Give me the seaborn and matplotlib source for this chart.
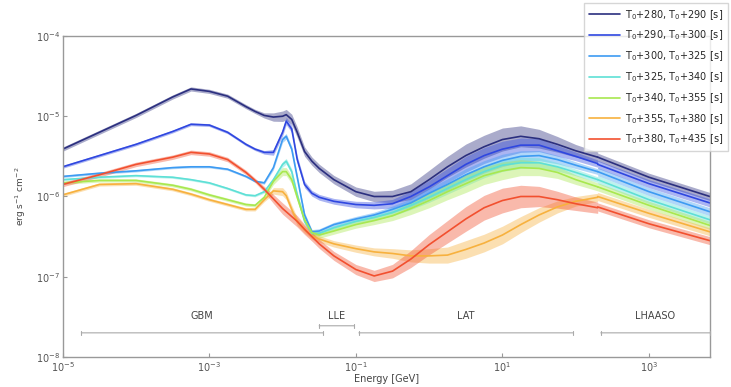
import numpy as np
import pandas as pd
import matplotlib
matplotlib.use("Agg")
import matplotlib.pyplot as plt
import matplotlib.ticker as mticker
import seaborn as sns

# log10(E / GeV) grid of the GBM+LLE+LAT model curves
log_e = [-5.0, -4.5, -4.0, -3.5, -3.25, -3.0, -2.75, -2.5, -2.375, -2.25, -2.125, -2.0, -1.95,
         -1.875, -1.8, -1.7, -1.6, -1.5, -1.3, -1.0, -0.75, -0.5, -0.25, 0.0, 0.25,
         0.5, 0.75, 1.0, 1.25, 1.5, 1.75, 2.0, 2.3]

# log10 of flux [erg s-1 cm-2] per time window
lf_280_290 = [-5.41, -5.20, -4.99, -4.76, -4.66, -4.69, -4.75, -4.88, -4.94, -4.99, -5.01, -5.00, -4.98,
              -5.04, -5.20, -5.44, -5.56, -5.65, -5.79, -5.94, -6.00, -6.00, -5.94, -5.79, -5.63,
              -5.49, -5.38, -5.29, -5.25, -5.28, -5.35, -5.43, -5.51]
lf_290_300 = [-5.63, -5.49, -5.35, -5.19, -5.10, -5.11, -5.20, -5.35, -5.41, -5.45, -5.45, -5.20, -5.06,
              -5.16, -5.54, -5.85, -5.96, -6.01, -6.06, -6.10, -6.11, -6.09, -6.00, -5.88, -5.74,
              -5.60, -5.49, -5.41, -5.36, -5.36, -5.43, -5.50, -5.59]
lf_300_325 = [-5.75, -5.71, -5.68, -5.64, -5.63, -5.63, -5.66, -5.75, -5.81, -5.83, -5.64, -5.29, -5.25,
              -5.41, -5.76, -6.23, -6.44, -6.43, -6.35, -6.28, -6.23, -6.16, -6.08, -5.96, -5.85,
              -5.73, -5.63, -5.55, -5.50, -5.49, -5.54, -5.61, -5.69]
lf_325_340 = [-5.79, -5.76, -5.74, -5.76, -5.79, -5.83, -5.90, -5.98, -5.99, -5.94, -5.79, -5.60, -5.56,
              -5.69, -5.98, -6.31, -6.46, -6.46, -6.39, -6.31, -6.26, -6.20, -6.11, -6.01, -5.90,
              -5.79, -5.69, -5.61, -5.58, -5.58, -5.63, -5.70, -5.79]
lf_340_355 = [-5.83, -5.80, -5.80, -5.86, -5.91, -5.98, -6.04, -6.10, -6.11, -6.01, -5.81, -5.69, -5.69,
              -5.79, -6.01, -6.29, -6.45, -6.48, -6.43, -6.35, -6.30, -6.24, -6.15, -6.05, -5.94,
              -5.84, -5.74, -5.68, -5.64, -5.65, -5.70, -5.79, -5.88]
lf_355_380 = [-5.98, -5.85, -5.84, -5.91, -5.97, -6.04, -6.10, -6.16, -6.16, -6.04, -5.93, -5.94, -5.99,
              -6.16, -6.31, -6.41, -6.49, -6.53, -6.59, -6.65, -6.69, -6.71, -6.74, -6.74, -6.73,
              -6.66, -6.58, -6.48, -6.35, -6.23, -6.13, -6.06, -6.01]
lf_380_435 = [-5.85, -5.73, -5.60, -5.51, -5.45, -5.47, -5.54, -5.70, -5.80, -5.91, -6.03, -6.15, -6.19,
              -6.25, -6.31, -6.41, -6.50, -6.59, -6.74, -6.91, -6.99, -6.93, -6.78, -6.60, -6.44,
              -6.28, -6.14, -6.05, -6.00, -6.00, -6.04, -6.09, -6.14]

# half width of the uncertainty band [dex] along log_e
band_dex = [0.02, 0.02, 0.02, 0.02, 0.02, 0.02, 0.02, 0.02, 0.02, 0.025, 0.04, 0.05, 0.05,
            0.05, 0.05, 0.045, 0.04, 0.04, 0.04, 0.045, 0.05, 0.06, 0.075, 0.09, 0.10,
            0.11, 0.11, 0.11, 0.10, 0.09, 0.075, 0.06, 0.05]
band_scale = [1.3, 0.9, 0.7, 0.7, 1.0, 1.0, 1.4]

# LHAASO power-law segments
log_e_lhaaso = [2.3, 3.0, 3.83]
lf_lhaaso = [[-5.51, -5.76, -6.00],
             [-5.60, -5.84, -6.08],
             [-5.69, -5.94, -6.19],
             [-5.79, -6.04, -6.29],
             [-5.88, -6.11, -6.36],
             [-6.00, -6.21, -6.44],
             [-6.13, -6.34, -6.55]]
band_lhaaso = 0.05

windows = ["T$_0$+280, T$_0$+290 [s]", "T$_0$+290, T$_0$+300 [s]", "T$_0$+300, T$_0$+325 [s]",
           "T$_0$+325, T$_0$+340 [s]", "T$_0$+340, T$_0$+355 [s]", "T$_0$+355, T$_0$+380 [s]",
           "T$_0$+380, T$_0$+435 [s]"]
colors = ["#2b2f7f", "#2f47e0", "#3d9bf2", "#5ee0d6", "#a8e84f", "#f7b13e", "#f2502f"]
curves = [lf_280_290, lf_290_300, lf_300_325, lf_325_340, lf_340_355, lf_355_380, lf_380_435]

# instrument energy ranges [GeV]
instruments = ["GBM", "LLE", "LAT", "LHAASO"]
inst_lo = [1.8e-5, 3.16e-2, 0.11, 220.0]
inst_hi = [3.56e-2, 9.4e-2, 91.0, 6.8e3]

rows = []
for w, lf, ll in zip(windows, curves, lf_lhaaso):
    for x, y in zip(log_e, lf):
        rows.append((w, "main", 10 ** x, 10 ** y))
    for x, y in zip(log_e_lhaaso, ll):
        rows.append((w, "lhaaso", 10 ** x, 10 ** y))
df = pd.DataFrame(rows, columns=["window", "segment", "energy", "flux"])

sns.set_style("ticks")
plt.rcParams["font.family"] = ["DejaVu Sans"]

fig = plt.figure(figsize=(7.31, 3.87), dpi=100)
ax = fig.add_axes([0.0858, 0.0775, 0.8855, 0.8295])

le = np.array(log_e)
bd = np.array(band_dex)
for lf, ll, c, s in zip(curves, lf_lhaaso, colors, band_scale):
    lf = np.array(lf)
    ax.fill_between(10 ** le, 10 ** (lf - s * bd), 10 ** (lf + s * bd), color=c, alpha=0.4, lw=0)
    ll = np.array(ll)
    ax.fill_between(10 ** np.array(log_e_lhaaso), 10 ** (ll - band_lhaaso), 10 ** (ll + band_lhaaso),
                    color=c, alpha=0.4, lw=0)

sns.lineplot(data=df, x="energy", y="flux", hue="window", units="segment", estimator=None,
             sort=False, palette=dict(zip(windows, colors)), lw=1.2, ax=ax)

ax.set_xscale("log")
ax.set_yscale("log")
ax.set_xlim(1e-5, 6.8e3)
ax.set_ylim(1e-8, 1e-4)
ax.xaxis.set_major_locator(mticker.FixedLocator([1e-5, 1e-3, 1e-1, 1e1, 1e3]))
ax.xaxis.set_major_formatter(mticker.LogFormatterSciNotation())
ax.xaxis.set_minor_locator(mticker.NullLocator())
ax.yaxis.set_major_locator(mticker.FixedLocator([1e-8, 1e-7, 1e-6, 1e-5, 1e-4]))
ax.yaxis.set_major_formatter(mticker.LogFormatterSciNotation())
ax.yaxis.set_minor_locator(mticker.NullLocator())
ax.tick_params(direction="in", labelsize=7, colors="#999999", labelcolor="#555555", length=3, pad=2)
for sp in ax.spines.values():
    sp.set_color("#999999")
    sp.set_linewidth(1.0)

ax.set_xlabel("Energy [GeV]", fontsize=7, color="#444444")
ax.xaxis.set_label_coords(0.5, -0.052)
ax.set_ylabel("erg s$^{-1}$ cm$^{-2}$", fontsize=6.5, color="#444444")
ax.yaxis.set_label_coords(-0.053, 0.5)

# instrument ranges
for name, lo, hi in zip(instruments, inst_lo, inst_hi):
    yarr = 2.45e-8 if name == "LLE" else 2.0e-8
    ax.annotate("", xy=(hi, yarr), xytext=(lo, yarr),
                arrowprops=dict(arrowstyle="|-|, widthA=0.15, widthB=0.15", color="#aaaaaa", lw=0.8,
                                shrinkA=0, shrinkB=0))
    ax.text(np.sqrt(lo * hi), 3.2e-8, name, fontsize=7, color="#444444", ha="center", va="center")

h, l = ax.get_legend_handles_labels()
ax.get_legend().remove()
fig.legend(h, l, loc="upper right", bbox_to_anchor=(1.003, 1.005), fontsize=7, frameon=True,
           edgecolor="#cccccc", fancybox=False, labelspacing=0.72, handlelength=3.2,
           handletextpad=0.5, borderpad=0.5)

fig.savefig("out.png", dpi=100)
